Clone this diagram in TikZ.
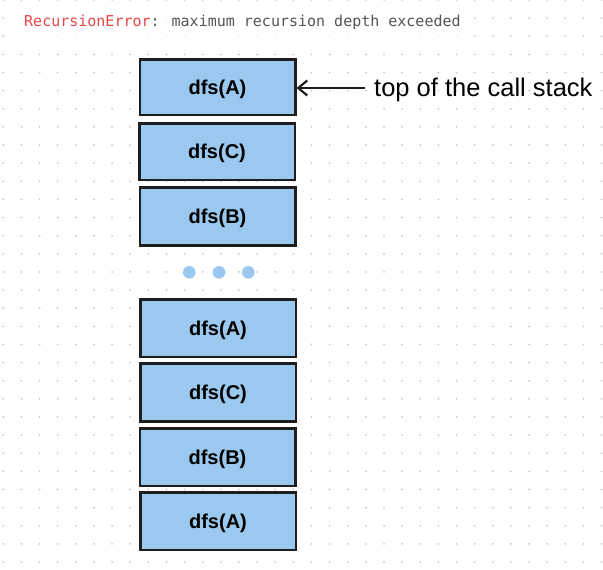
\documentclass[tikz,border=0pt]{standalone}
\usepackage{fontspec}
\setmainfont{Liberation Sans}
\newfontfamily\monof{DejaVu Sans Mono}
\usetikzlibrary{arrows.meta}
\definecolor{boxblue}{RGB}{154,200,238}
\definecolor{edge}{RGB}{30,30,30}
\definecolor{errred}{RGB}{230,70,70}
\definecolor{errgray}{RGB}{85,85,85}
\definecolor{griddot}{RGB}{200,200,200}
\tikzset{
  frame/.style={draw=edge, line width=2.5pt, fill=boxblue, minimum width=155.5pt,
    inner sep=0pt, text height=14pt, text depth=0pt,
    font=\fontsize{20}{22}\selectfont\bfseries, text=black},
  dotmark/.style={circle, fill=boxblue, minimum size=12.6pt, inner sep=0pt},
  pointer/.style={draw=edge, line width=2.4pt, -{Straight Barb[length=9pt,width=15pt,line width=2.2pt]}},
  notetext/.style={anchor=base west, inner sep=0pt, font=\fontsize{25.5}{28}\selectfont, text=black}
}
\begin{document}
\begin{tikzpicture}[x=1pt,y=-1pt]
\useasboundingbox (0,0) rectangle (603,570);
\fill[white] (0,0) rectangle (603,570);
% dot grid
\foreach \i in {0,...,33} {
  \foreach \j in {0,...,31} {
    \fill[griddot] ({3.3+18.13*\i},{18.13*\j}) circle (1pt);
  }
}
% error message
\fill[white, opacity=0.75] (13,6) rectangle (470,38);
\node[anchor=base west, inner sep=0pt, font=\monof\fontsize{15}{18}\selectfont] (err) at (24,27)
  {\textcolor{errred}{RecursionError}\textcolor{errgray}{: maximum recursion depth exceeded}};
% stack frames
\node[frame, minimum height=55.5pt] (f1) at (217.5,87) {dfs(A)};
\node[frame, minimum height=56.5pt] (f2) at (217,151.5) {dfs(C)};
\node[frame, minimum height=58pt] (f3) at (217.5,216.5) {dfs(B)};
\node[dotmark] (d1) at (189.3,272.3) {};
\node[dotmark] (d2) at (219,272.3) {};
\node[dotmark] (d3) at (248.3,272.3) {};
\node[frame, minimum height=57.5pt] (f4) at (218,328) {dfs(A)};
\node[frame, minimum height=58pt] (f5) at (218,392.5) {dfs(C)};
\node[frame, minimum height=57.5pt] (f6) at (217.5,457) {dfs(B)};
\node[frame, minimum height=57.5pt] (f7) at (218,521) {dfs(A)};
% pointer
\node[notetext] (note) at (374,96) {top of the call stack};
\coordinate (tail) at (365,88);
\draw[pointer] (tail) -- (f1.east |- tail);
\end{tikzpicture}
\end{document}
